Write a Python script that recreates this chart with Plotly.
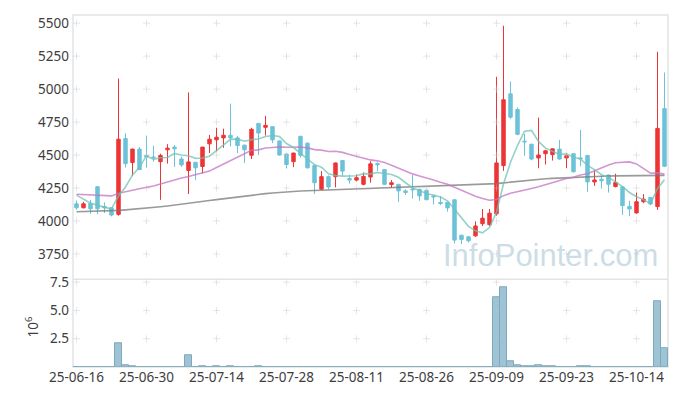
import plotly.graph_objects as go

dates = [
    "2025-06-16", "2025-06-17", "2025-06-18", "2025-06-19", "2025-06-20",
    "2025-06-23", "2025-06-24", "2025-06-25", "2025-06-26", "2025-06-27",
    "2025-06-30", "2025-07-01", "2025-07-02", "2025-07-03", "2025-07-04",
    "2025-07-07", "2025-07-08", "2025-07-09", "2025-07-10", "2025-07-11",
    "2025-07-14", "2025-07-15", "2025-07-16", "2025-07-17", "2025-07-18",
    "2025-07-21", "2025-07-22", "2025-07-23", "2025-07-24", "2025-07-25",
    "2025-07-28", "2025-07-29", "2025-07-30", "2025-07-31", "2025-08-01",
    "2025-08-04", "2025-08-05", "2025-08-06", "2025-08-07", "2025-08-08",
    "2025-08-11", "2025-08-12", "2025-08-13", "2025-08-14", "2025-08-18",
    "2025-08-19", "2025-08-20", "2025-08-21", "2025-08-22", "2025-08-25",
    "2025-08-26", "2025-08-27", "2025-08-28", "2025-08-29", "2025-09-01",
    "2025-09-02", "2025-09-03", "2025-09-04", "2025-09-05", "2025-09-08",
    "2025-09-09", "2025-09-10", "2025-09-11", "2025-09-12", "2025-09-15",
    "2025-09-16", "2025-09-17", "2025-09-18", "2025-09-19", "2025-09-22",
    "2025-09-23", "2025-09-24", "2025-09-25", "2025-09-26", "2025-09-29",
    "2025-09-30", "2025-10-01", "2025-10-02", "2025-10-10", "2025-10-13",
    "2025-10-14", "2025-10-15", "2025-10-16", "2025-10-17", "2025-10-20",
]

open_ = [4130, 4100, 4133, 4260, 4110, 4100, 4050, 4625, 4443, 4545,
         4497, 4485, 4450, 4540, 4560, 4470, 4383, 4445, 4413, 4585,
         4615, 4630, 4650, 4630, 4575, 4498, 4740, 4710, 4715, 4607,
         4508, 4450, 4642, 4590, 4420, 4241, 4336, 4336, 4458, 4322,
         4310, 4278, 4333, 4435, 4390, 4276, 4278, 4228, 4242, 4240,
         4233, 4190, 4140, 4141, 4161, 3892, 3880, 3887, 3979, 3972,
         4054, 4420, 4964, 4845, 4605, 4582, 4478, 4510, 4503, 4545,
         4478, 4510, 4478, 4497, 4296, 4316, 4348, 4261, 4258, 4111,
         4061, 4146, 4178, 4109, 4852]
high = [4155, 4145, 4159, 4262, 4140, 4105, 5080, 4665, 4548, 4560,
        4647, 4570, 4510, 4582, 4575, 4488, 4975, 4447, 4562, 4652,
        4707, 4700, 4890, 4645, 4578, 4707, 4742, 4797, 4717, 4610,
        4510, 4517, 4645, 4595, 4430, 4378, 4345, 4442, 4460, 4350,
        4353, 4368, 4453, 4445, 4393, 4310, 4280, 4240, 4348, 4245,
        4235, 4195, 4190, 4143, 4163, 3895, 3882, 3997, 4091, 4091,
        5093, 5480, 5058, 4860, 4660, 4585, 4784, 4540, 4550, 4615,
        4515, 4512, 4690, 4500, 4385, 4345, 4350, 4358, 4262, 4153,
        4216, 4203, 4180, 5283, 5126]
low = [4085, 4095, 4054, 4050, 4060, 4035, 4040, 4405, 4340, 4385,
       4405, 4450, 4160, 4435, 4410, 4410, 4205, 4310, 4360, 4515,
       4527, 4555, 4565, 4515, 4440, 4470, 4500, 4648, 4590, 4495,
       4398, 4408, 4480, 4398, 4205, 4235, 4240, 4255, 4340, 4283,
       4300, 4270, 4290, 4378, 4275, 4250, 4145, 4198, 4170, 4153,
       4158, 4125, 4120, 4071, 3830, 3825, 3837, 3880, 3962, 3962,
       4040, 4380, 4775, 4650, 4495, 4460, 4400, 4428, 4458, 4465,
       4400, 4368, 4415, 4222, 4266, 4246, 4215, 4255, 4046, 4036,
       4055, 4135, 4120, 4084, 4410]
close = [4100, 4130, 4092, 4092, 4100, 4045, 4620, 4435, 4545, 4390,
         4485, 4480, 4497, 4552, 4547, 4425, 4448, 4403, 4560, 4620,
         4635, 4650, 4630, 4572, 4540, 4695, 4667, 4725, 4615, 4500,
         4428, 4515, 4498, 4403, 4290, 4336, 4258, 4440, 4378, 4310,
         4328, 4338, 4433, 4427, 4278, 4290, 4228, 4216, 4237, 4190,
         4161, 4183, 4133, 4099, 3855, 3860, 3850, 3962, 4021, 4059,
         4440, 4919, 4787, 4657, 4600, 4470, 4500, 4532, 4547, 4470,
         4495, 4373, 4472, 4296, 4311, 4305, 4278, 4291, 4116, 4091,
         4146, 4166, 4129, 4702, 4415]

ma5 = [4196, 4165, 4135, 4120, 4103, 4092, 4190, 4258, 4349, 4407,
       4495, 4467, 4479, 4481, 4512, 4500, 4494, 4475, 4477, 4491,
       4533, 4574, 4619, 4621, 4605, 4617, 4621, 4640, 4648, 4640,
       4587, 4557, 4511, 4469, 4427, 4408, 4357, 4345, 4340, 4344,
       4343, 4359, 4357, 4367, 4361, 4353, 4331, 4288, 4250, 4232,
       4206, 4197, 4181, 4153, 4086, 4026, 3959, 3925, 3910, 3950,
       4066, 4280, 4445, 4572, 4681, 4687, 4603, 4552, 4530, 4504,
       4509, 4483, 4471, 4421, 4389, 4351, 4332, 4296, 4260, 4216,
       4184, 4162, 4130, 4247, 4312]
ma20 = [4203, 4200, 4198, 4196, 4193, 4190, 4210, 4222, 4235, 4245,
        4255, 4265, 4280, 4298, 4313, 4326, 4337, 4350, 4368, 4378,
        4405, 4431, 4458, 4482, 4504, 4536, 4539, 4553, 4557, 4562,
        4559, 4561, 4561, 4554, 4541, 4537, 4527, 4529, 4520, 4504,
        4489, 4473, 4463, 4456, 4443, 4423, 4401, 4375, 4357, 4341,
        4328, 4311, 4293, 4278, 4256, 4232, 4212, 4188, 4170, 4157,
        4163, 4192, 4210, 4221, 4237, 4246, 4260, 4276, 4291, 4305,
        4322, 4331, 4348, 4358, 4381, 4403, 4425, 4441, 4446, 4448,
        4433, 4395, 4362, 4365, 4355]
ma60 = [4070, 4071, 4072, 4073, 4075, 4077, 4080, 4084, 4088, 4093,
        4098, 4103, 4108, 4114, 4120, 4126, 4133, 4140, 4147, 4155,
        4162, 4169, 4176, 4183, 4189, 4195, 4201, 4207, 4212, 4217,
        4221, 4224, 4227, 4229, 4231, 4232, 4233, 4234, 4236, 4238,
        4240, 4242, 4244, 4246, 4248, 4250, 4252, 4254, 4256, 4258,
        4261, 4263, 4265, 4267, 4269, 4271, 4273, 4275, 4277, 4279,
        4283, 4289, 4295, 4301, 4306, 4311, 4316, 4320, 4323, 4326,
        4328, 4331, 4334, 4336, 4338, 4340, 4341, 4342, 4343, 4344,
        4344, 4345, 4345, 4345, 4346]

# volume in millions of shares
volume = [0.01, 0.01, 0.01, 0.01, 0.01, 0.01, 2.06, 0.17, 0.09, 0.02,
          0.01, 0.01, 0.01, 0.01, 0.01, 0.01, 1.02, 0.02, 0.06, 0.02,
          0.06, 0.02, 0.06, 0.01, 0.01, 0.02, 0.06, 0.01, 0.01, 0.01,
          0.01, 0.01, 0.01, 0.01, 0.01, 0.01, 0.01, 0.01, 0.01, 0.01,
          0.01, 0.01, 0.01, 0.01, 0.01, 0.01, 0.01, 0.01, 0.01, 0.01,
          0.01, 0.01, 0.01, 0.01, 0.01, 0.01, 0.01, 0.01, 0.01, 0.01,
          6.18, 7.06, 0.52, 0.17, 0.09, 0.08, 0.15, 0.03, 0.08, 0.02,
          0.02, 0.02, 0.07, 0.07, 0.01, 0.01, 0.01, 0.01, 0.01, 0.01,
          0.01, 0.01, 0.01, 5.84, 1.63]

tick_idx = [0, 10, 20, 30, 40, 50, 60, 70, 80]
tick_labels = ["25-06-16", "25-06-30", "25-07-14", "25-07-28", "25-08-11",
               "25-08-26", "25-09-09", "25-09-23", "25-10-14"]
price_ticks = [3750, 4000, 4250, 4500, 4750, 5000, 5250, 5500]
vol_ticks = [2.5, 5.0, 7.5]

UP = "#ee3434"
DOWN = "#6cc2d9"
GRID = "rgba(195,195,195,0.4)"
BORDER = "#e4e4e4"
TXT = "#3d3d3d"
FONT = "Noto Sans"
FS = 13.5
split = 0.2493

fig = go.Figure()

fig.add_trace(go.Candlestick(
    x=dates, open=open_, high=high, low=low, close=close,
    xaxis="x", yaxis="y",
    increasing=dict(line=dict(color=UP, width=1), fillcolor=UP),
    decreasing=dict(line=dict(color=DOWN, width=1), fillcolor=DOWN),
    whiskerwidth=0, showlegend=False))

fig.add_trace(go.Scatter(x=dates, y=ma60, mode="lines", xaxis="x", yaxis="y",
                         line=dict(color="rgba(120,120,120,0.75)", width=1.6),
                         showlegend=False, hoverinfo="skip"))
fig.add_trace(go.Scatter(x=dates, y=ma20, mode="lines", xaxis="x", yaxis="y",
                         line=dict(color="rgba(195,115,195,0.75)", width=1.6),
                         showlegend=False, hoverinfo="skip"))
fig.add_trace(go.Scatter(x=dates, y=ma5, mode="lines", xaxis="x", yaxis="y",
                         line=dict(color="rgba(110,195,180,0.75)", width=1.6),
                         showlegend=False, hoverinfo="skip"))

fig.add_trace(go.Bar(x=dates, y=volume, xaxis="x", yaxis="y2",
                     marker=dict(color="#9dc3d4", line=dict(color="#7ea9bd", width=1)),
                     showlegend=False))

# grid crosses at tick intersections
tick_dates = [dates[i] for i in tick_idx]
gx = [d for d in tick_dates for _ in price_ticks]
gy = [p for _ in tick_dates for p in price_ticks]
fig.add_trace(go.Scatter(x=gx, y=gy, mode="markers", xaxis="x", yaxis="y",
                         marker=dict(symbol="cross-thin", size=5, color=GRID,
                                     line=dict(color=GRID, width=1)),
                         hoverinfo="skip", showlegend=False))
gx2 = [d for d in tick_dates for _ in vol_ticks]
gy2 = [v for _ in tick_dates for v in vol_ticks]
fig.add_trace(go.Scatter(x=gx2, y=gy2, mode="markers", xaxis="x", yaxis="y2",
                         marker=dict(symbol="cross-thin", size=5, color=GRID,
                                     line=dict(color=GRID, width=1)),
                         hoverinfo="skip", showlegend=False))

# the page body has an 8px margin; size the figure so the plot lands in place
fig.update_layout(
    width=661, height=380,
    margin=dict(l=65, r=1, t=2, b=21),
    paper_bgcolor="white", plot_bgcolor="white",
    bargap=0,
    font=dict(family=FONT, size=FS, color=TXT),
    xaxis=dict(type="category", categoryorder="array", categoryarray=dates,
               range=[-0.5, 84.5], anchor="y2",
               tickmode="array", tickvals=tick_dates, ticktext=tick_labels,
               showgrid=False, zeroline=False, showline=False, ticks="",
               rangeslider=dict(visible=False),
               tickfont=dict(family=FONT, size=FS, color=TXT)),
    yaxis=dict(domain=[split, 1], range=[3558, 5562], tickmode="array",
               tickvals=price_ticks, ticktext=[str(p) for p in price_ticks],
               showgrid=False, zeroline=False, showline=False, ticks="",
               ticklabelstandoff=3,
               tickfont=dict(family=FONT, size=FS, color=TXT)),
    yaxis2=dict(domain=[0, split], range=[0, 7.76], tickmode="array",
                tickvals=vol_ticks, ticktext=["%.1f" % v for v in vol_ticks],
                showgrid=False, zeroline=False, showline=False, ticks="",
                ticklabelstandoff=3,
                tickfont=dict(family=FONT, size=FS, color=TXT)),
    shapes=[
        dict(type="rect", xref="paper", yref="paper", x0=0, x1=1, y0=0, y1=1,
             line=dict(color=BORDER, width=1.5), layer="below"),
        dict(type="line", xref="paper", yref="paper", x0=0, x1=1, y0=split, y1=split,
             line=dict(color=BORDER, width=1.5), layer="below"),
    ],
    annotations=[
        dict(text="InfoPointer.com", xref="paper", yref="paper", x=0.8025, y=0.3165,
             xanchor="center", yanchor="middle", showarrow=False,
             font=dict(family="Liberation Sans", size=31, color="rgba(170,198,214,0.6)")),
        dict(text="10<sup>6</sup>", xref="paper", yref="paper", x=-0.069, y=0.115,
             xanchor="center", yanchor="middle", showarrow=False, textangle=-90,
             font=dict(family=FONT, size=FS, color=TXT)),
    ],
)

fig.write_html("out.html")
